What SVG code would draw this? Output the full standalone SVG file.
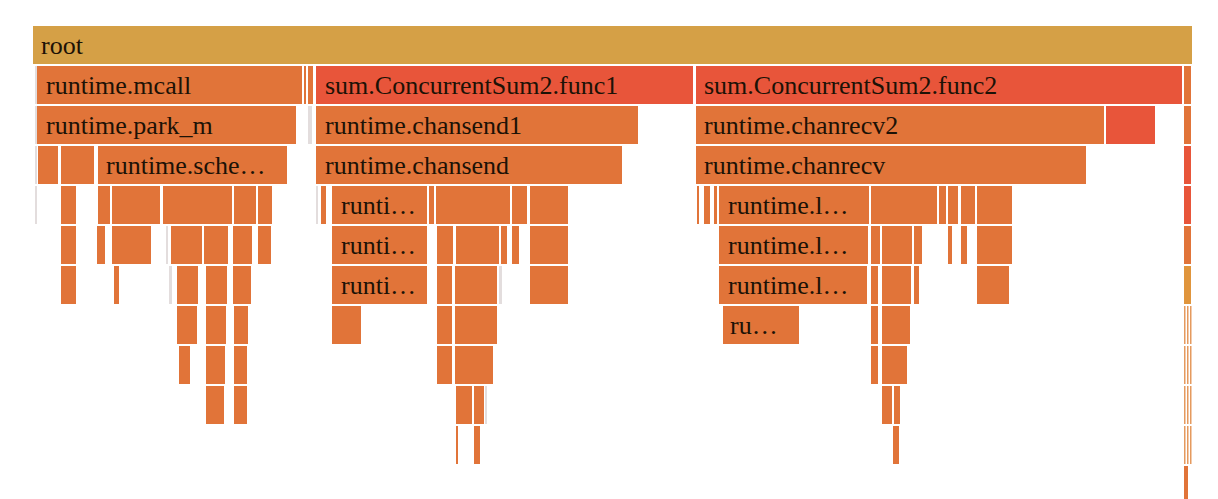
<svg xmlns="http://www.w3.org/2000/svg" width="1218" height="499" viewBox="0 0 1218 499">
<style>
rect{height:38px}
.y{fill:#d5a046}
.o{fill:#e17439}
.r{fill:#e8553a}
.a{fill:#e0953c}
.g{fill:#e3dddd}
.s{fill:#e59a5e}
.t{font-family:"Liberation Serif","Times New Roman",serif;font-size:26px;fill:#1c1206}
</style>
<rect x="0" y="0" width="1218" height="499" fill="#ffffff" style="height:499px"/>
<g id="connectors"/>
<g id="frames">
<!-- row 0 -->
<g id="n-root"><rect class="y" x="33" y="26" width="1159" height="38"/><text class="t" x="41" y="54">root</text></g>
<!-- row 1 -->
<g id="n-r1-a"><rect class="g" x="35" y="66" width="2" height="38"/></g>
<g id="n-mcall"><rect class="o" x="37" y="66" width="265" height="38"/><text class="t" x="46" y="94">runtime.mcall</text></g>
<g id="n-r1-b"><rect class="o" x="304" y="66" width="2" height="38"/></g>
<g id="n-r1-c"><rect class="o" x="308" y="66" width="5" height="38"/></g>
<g id="n-func1"><rect class="r" x="316" y="66" width="377" height="38"/><text class="t" x="325" y="94">sum.ConcurrentSum2.func1</text></g>
<g id="n-func2"><rect class="r" x="696" y="66" width="486" height="38"/><text class="t" x="704" y="94">sum.ConcurrentSum2.func2</text></g>
<g id="n-r1-d"><rect class="o" x="1184" y="66" width="7" height="38"/></g>
<!-- row 2 -->
<g id="n-r2-a"><rect class="g" x="35" y="106" width="2" height="38"/></g>
<g id="n-park_m"><rect class="o" x="37" y="106" width="259" height="38"/><text class="t" x="46" y="134">runtime.park_m</text></g>
<g id="n-r2-b"><rect class="g" x="308" y="106" width="4" height="38"/></g>
<g id="n-chansend1"><rect class="o" x="316" y="106" width="322" height="38"/><text class="t" x="325" y="134">runtime.chansend1</text></g>
<g id="n-chanrecv2"><rect class="o" x="696" y="106" width="408" height="38"/><text class="t" x="704" y="134">runtime.chanrecv2</text></g>
<g id="n-r2-c"><rect class="r" x="1106" y="106" width="49" height="38"/></g>
<g id="n-r2-d"><rect class="o" x="1184" y="106" width="7" height="38"/></g>
<!-- row 3 -->
<g id="n-r3-a"><rect class="g" x="35" y="146" width="2" height="38"/></g>
<g id="n-r3-b"><rect class="o" x="38" y="146" width="20" height="38"/></g>
<g id="n-r3-c"><rect class="o" x="61" y="146" width="33" height="38"/></g>
<g id="n-sche"><rect class="o" x="98" y="146" width="189" height="38"/><text class="t" x="106" y="174">runtime.sche…</text></g>
<g id="n-chansend"><rect class="o" x="316" y="146" width="306" height="38"/><text class="t" x="325" y="174">runtime.chansend</text></g>
<g id="n-chanrecv"><rect class="o" x="696" y="146" width="390" height="38"/><text class="t" x="704" y="174">runtime.chanrecv</text></g>
<g id="n-r3-d"><rect class="r" x="1184" y="146" width="7" height="38"/></g>
<!-- row 4 -->
<g id="n-r4-a"><rect class="g" x="35" y="186" width="2" height="38"/></g>
<g id="n-r4-b"><rect class="o" x="61" y="186" width="15" height="38"/></g>
<g id="n-r4-c"><rect class="o" x="98" y="186" width="12" height="38"/></g>
<g id="n-r4-d"><rect class="o" x="112" y="186" width="48" height="38"/></g>
<g id="n-r4-e"><rect class="o" x="163" y="186" width="69" height="38"/></g>
<g id="n-r4-f"><rect class="o" x="234" y="186" width="22" height="38"/></g>
<g id="n-r4-g"><rect class="o" x="258" y="186" width="14" height="38"/></g>
<g id="n-r4-h"><rect class="g" x="316" y="186" width="2" height="38"/></g>
<g id="n-r4-i"><rect class="o" x="321" y="186" width="5" height="38"/></g>
<g id="n-r4-runti"><rect class="o" x="332" y="186" width="95" height="38"/><text class="t" x="341" y="214">runti…</text></g>
<g id="n-r4-j"><rect class="o" x="429" y="186" width="5" height="38"/></g>
<g id="n-r4-k"><rect class="o" x="436" y="186" width="74" height="38"/></g>
<g id="n-r4-l"><rect class="o" x="512" y="186" width="15" height="38"/></g>
<g id="n-r4-m"><rect class="o" x="530" y="186" width="38" height="38"/></g>
<g id="n-r4-n"><rect class="o" x="697" y="186" width="2" height="38"/></g>
<g id="n-r4-o"><rect class="o" x="704" y="186" width="6" height="38"/></g>
<g id="n-r4-p"><rect class="o" x="714" y="186" width="3" height="38"/></g>
<g id="n-r4-rtl"><rect class="o" x="719" y="186" width="150" height="38"/><text class="t" x="728" y="214">runtime.l…</text></g>
<g id="n-r4-q"><rect class="o" x="871" y="186" width="66" height="38"/></g>
<g id="n-r4-r"><rect class="o" x="939" y="186" width="7" height="38"/></g>
<g id="n-r4-s"><rect class="o" x="948" y="186" width="10" height="38"/></g>
<g id="n-r4-t"><rect class="o" x="961" y="186" width="14" height="38"/></g>
<g id="n-r4-u"><rect class="o" x="977" y="186" width="35" height="38"/></g>
<g id="n-r4-v"><rect class="r" x="1184" y="186" width="7" height="38"/></g>
<!-- row 5 -->
<g id="n-r5-a"><rect class="o" x="61" y="226" width="15" height="38"/></g>
<g id="n-r5-b"><rect class="o" x="97" y="226" width="8" height="38"/></g>
<g id="n-r5-c"><rect class="o" x="112" y="226" width="39" height="38"/></g>
<g id="n-r5-d"><rect class="g" x="166" y="226" width="2" height="38"/></g>
<g id="n-r5-e"><rect class="o" x="171" y="226" width="31" height="38"/></g>
<g id="n-r5-f"><rect class="o" x="204" y="226" width="24" height="38"/></g>
<g id="n-r5-g"><rect class="o" x="233" y="226" width="19" height="38"/></g>
<g id="n-r5-h"><rect class="o" x="258" y="226" width="13" height="38"/></g>
<g id="n-r5-runti"><rect class="o" x="332" y="226" width="95" height="38"/><text class="t" x="341" y="254">runti…</text></g>
<g id="n-r5-i"><rect class="o" x="437" y="226" width="16" height="38"/></g>
<g id="n-r5-j"><rect class="o" x="456" y="226" width="43" height="38"/></g>
<g id="n-r5-k"><rect class="o" x="501" y="226" width="6" height="38"/></g>
<g id="n-r5-l"><rect class="o" x="512" y="226" width="7" height="38"/></g>
<g id="n-r5-m"><rect class="o" x="530" y="226" width="38" height="38"/></g>
<g id="n-r5-rtl"><rect class="o" x="719" y="226" width="149" height="38"/><text class="t" x="728" y="254">runtime.l…</text></g>
<g id="n-r5-n"><rect class="o" x="871" y="226" width="9" height="38"/></g>
<g id="n-r5-o"><rect class="o" x="882" y="226" width="30" height="38"/></g>
<g id="n-r5-p"><rect class="o" x="914" y="226" width="8" height="38"/></g>
<g id="n-r5-q"><rect class="o" x="948" y="226" width="4" height="38"/></g>
<g id="n-r5-r"><rect class="o" x="961" y="226" width="6" height="38"/></g>
<g id="n-r5-s"><rect class="o" x="977" y="226" width="35" height="38"/></g>
<g id="n-r5-t"><rect class="o" x="1184" y="226" width="7" height="38"/></g>
<!-- row 6 -->
<g id="n-r6-a"><rect class="o" x="61" y="266" width="15" height="38"/></g>
<g id="n-r6-b"><rect class="o" x="114" y="266" width="5" height="38"/></g>
<g id="n-r6-c"><rect class="g" x="169" y="266" width="3" height="38"/></g>
<g id="n-r6-d"><rect class="o" x="177" y="266" width="21" height="38"/></g>
<g id="n-r6-e"><rect class="o" x="206" y="266" width="21" height="38"/></g>
<g id="n-r6-f"><rect class="o" x="233" y="266" width="18" height="38"/></g>
<g id="n-r6-runti"><rect class="o" x="332" y="266" width="95" height="38"/><text class="t" x="341" y="294">runti…</text></g>
<g id="n-r6-g"><rect class="o" x="437" y="266" width="15" height="38"/></g>
<g id="n-r6-h"><rect class="o" x="455" y="266" width="42" height="38"/></g>
<g id="n-r6-i"><rect class="g" x="499" y="266" width="3" height="38"/></g>
<g id="n-r6-j"><rect class="o" x="530" y="266" width="38" height="38"/></g>
<g id="n-r6-rtl"><rect class="o" x="719" y="266" width="148" height="38"/><text class="t" x="728" y="294">runtime.l…</text></g>
<g id="n-r6-k"><rect class="o" x="871" y="266" width="7" height="38"/></g>
<g id="n-r6-l"><rect class="o" x="882" y="266" width="29" height="38"/></g>
<g id="n-r6-m"><rect class="o" x="914" y="266" width="5" height="38"/></g>
<g id="n-r6-n"><rect class="o" x="977" y="266" width="32" height="38"/></g>
<g id="n-r6-o"><rect class="a" x="1184" y="266" width="7" height="38"/></g>
<!-- row 7 -->
<g id="n-r7-a"><rect class="o" x="177" y="306" width="20" height="38"/></g>
<g id="n-r7-b"><rect class="o" x="206" y="306" width="20" height="38"/></g>
<g id="n-r7-c"><rect class="o" x="234" y="306" width="14" height="38"/></g>
<g id="n-r7-d"><rect class="o" x="332" y="306" width="29" height="38"/></g>
<g id="n-r7-e"><rect class="o" x="437" y="306" width="15" height="38"/></g>
<g id="n-r7-f"><rect class="o" x="455" y="306" width="42" height="38"/></g>
<g id="n-r7-ru"><rect class="o" x="723" y="306" width="76" height="38"/><text class="t" x="730" y="334">ru…</text></g>
<g id="n-r7-g"><rect class="o" x="871" y="306" width="7" height="38"/></g>
<g id="n-r7-h"><rect class="o" x="882" y="306" width="28" height="38"/></g>
<g id="n-r7-i"><rect class="s" x="1184" y="306" width="1.5" height="38"/><rect class="s" x="1187" y="306" width="1.5" height="38"/><rect class="s" x="1190" y="306" width="1.5" height="38"/></g>
<!-- row 8 -->
<g id="n-r8-a"><rect class="o" x="179" y="346" width="11" height="38"/></g>
<g id="n-r8-b"><rect class="o" x="206" y="346" width="19" height="38"/></g>
<g id="n-r8-c"><rect class="o" x="234" y="346" width="13" height="38"/></g>
<g id="n-r8-d"><rect class="o" x="437" y="346" width="15" height="38"/></g>
<g id="n-r8-e"><rect class="o" x="455" y="346" width="38" height="38"/></g>
<g id="n-r8-f"><rect class="o" x="871" y="346" width="7" height="38"/></g>
<g id="n-r8-g"><rect class="o" x="882" y="346" width="25" height="38"/></g>
<g id="n-r8-h"><rect class="s" x="1184" y="346" width="1.5" height="38"/><rect class="s" x="1187" y="346" width="1.5" height="38"/><rect class="s" x="1190" y="346" width="1.5" height="38"/></g>
<!-- row 9 -->
<g id="n-r9-a"><rect class="o" x="206" y="386" width="18" height="38"/></g>
<g id="n-r9-b"><rect class="o" x="234" y="386" width="13" height="38"/></g>
<g id="n-r9-c"><rect class="o" x="456" y="386" width="16" height="38"/></g>
<g id="n-r9-d"><rect class="o" x="474" y="386" width="10" height="38"/></g>
<g id="n-r9-e"><rect class="g" x="485" y="386" width="2" height="38"/></g>
<g id="n-r9-f"><rect class="o" x="882" y="386" width="10" height="38"/></g>
<g id="n-r9-g"><rect class="o" x="894" y="386" width="6" height="38"/></g>
<g id="n-r9-h"><rect class="s" x="1184" y="386" width="1.5" height="38"/><rect class="s" x="1187" y="386" width="1.5" height="38"/><rect class="s" x="1190" y="386" width="1.5" height="38"/></g>
<!-- row 10 -->
<g id="n-r10-a"><rect class="o" x="456" y="426" width="2" height="38"/></g>
<g id="n-r10-b"><rect class="o" x="474" y="426" width="6" height="38"/></g>
<g id="n-r10-c"><rect class="o" x="893" y="426" width="6" height="38"/></g>
<g id="n-r10-d"><rect class="s" x="1184" y="426" width="1.5" height="38"/><rect class="s" x="1187" y="426" width="1.5" height="38"/><rect class="s" x="1190" y="426" width="1.5" height="38"/></g>
<!-- row 11 -->
<g id="n-r11-a"><rect class="o" x="1184" y="466" width="4" height="38"/></g>
</g>
</svg>
